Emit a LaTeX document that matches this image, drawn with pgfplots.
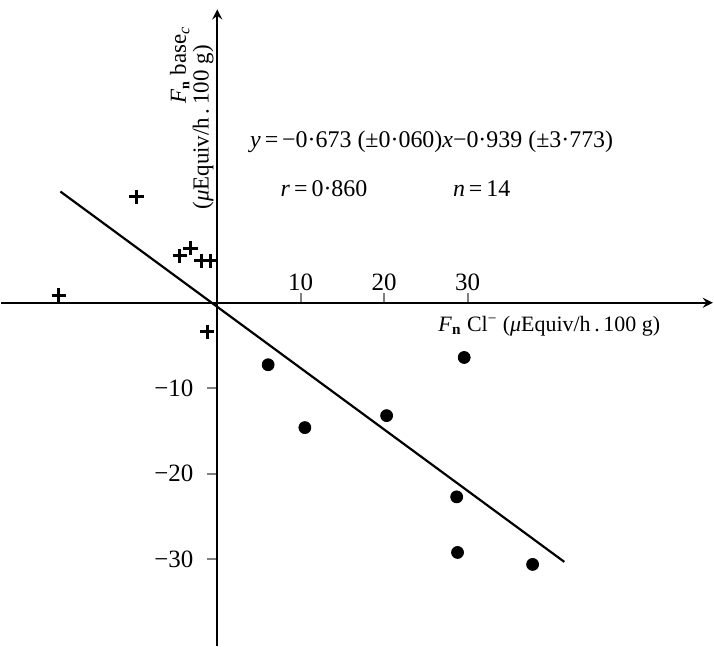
\documentclass[border=0pt]{standalone}
\usepackage{fontspec}
\setmainfont{Liberation Serif}
\usepackage{pgfplots}
\pgfplotsset{compat=1.18}
\begin{document}
\begin{tikzpicture}
\begin{axis}[
  scale only axis,
  width=357pt, height=319.2pt,
  axis lines=middle,
  axis line style={line width=1.2pt, -stealth},
  xmin=-25.9, xmax=59.4,
  ymin=-40.1, ymax=34.3,
  xtick={10,20,30}, xticklabels={10,20,30},
  ytick={-10,-20,-30}, yticklabels={−10,−20,−30},
  major tick length=5pt,
  tick align=center,
  xtick style={line width=1pt, yshift=2.5pt},
  ytick style={line width=1pt, xshift=-2.5pt},
  xticklabel style={anchor=south, yshift=5pt, font=\fontsize{12.5}{14}\selectfont},
  yticklabel style={anchor=east, xshift=-6pt, font=\fontsize{12.5}{14}\selectfont},
  clip=false,
]
% dots
\addplot[only marks, mark=*, mark size=3pt, fill=black] coordinates {
  (6.1,-7.25) (10.5,-14.6) (20.3,-13.2) (29.6,-6.4)
  (28.7,-22.7) (28.8,-29.2) (37.8,-30.6)
};
% crosses
\addplot[only marks, mark=+, mark size=3.6pt, line width=1.5pt] coordinates {
  (-9.7,12.4) (-4.5,5.5) (-3.2,6.4) (-1.9,4.9) (-0.8,4.9) (-19.0,0.9) (-1.2,-3.4)
};
% regression line
\addplot[line width=1.1pt] coordinates {(-18.8,13.0) (41.6,-30.3)};
\path (axis cs:0,35.4);
\node[font=\fontsize{12}{14}\selectfont] at (axis cs:25.7,18.8)
  {\textit{y}\,=\,−0·673 (±0·060)\textit{x}−0·939 (±3·773)};
\node[font=\fontsize{12}{14}\selectfont] at (axis cs:12.8,13.3) {\textit{r}\,=\,0·860};
\node[font=\fontsize{12}{14}\selectfont] at (axis cs:31.7,13.3) {\textit{n}\,=\,14};
\node[font=\fontsize{11}{13}\selectfont] at (axis cs:39.8,-2.7)
  {\textit{F}\textsubscript{\textbf{n}} Cl\textsuperscript{−} (\textit{μ}Equiv/h\,.\,100 g)};
\node[rotate=90, font=\fontsize{11.5}{13}\selectfont] at (axis cs:-4.5,27.8)
  {\textit{F}\textsubscript{\textbf{\scriptsize n}} base\textsubscript{\textit{c}}};
\node[rotate=90, font=\fontsize{11.5}{13}\selectfont] at (axis cs:-1.7,20.5)
  {(\textit{μ}Equiv/h\,.\,100 g)};
\end{axis}
\end{tikzpicture}
\end{document}
